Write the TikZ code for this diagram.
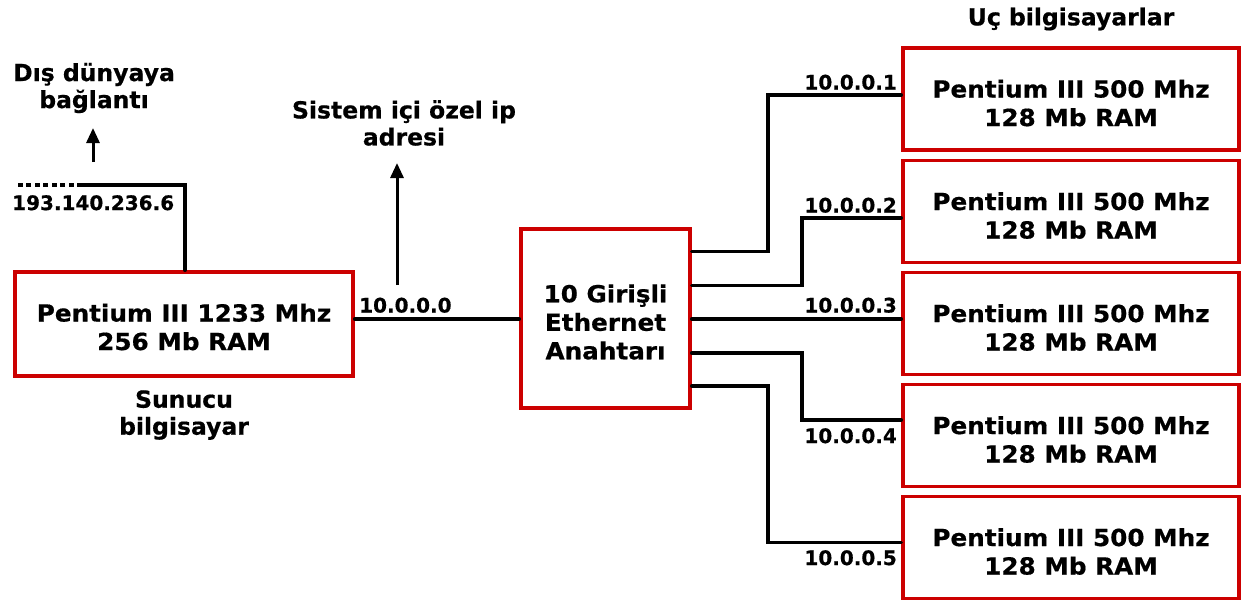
\documentclass[tikz,border=0pt]{standalone}
\usepackage{fontspec}
\setmainfont{DejaVu Sans}[BoldFeatures={FakeBold=0.6}]
\newfontfamily\wideboldfont{DejaVu Sans}[FakeStretch=1.05, BoldFeatures={FakeBold=0.6}]
\usetikzlibrary{arrows.meta}
\definecolor{boxred}{RGB}{204,0,0}
\tikzset{
  box/.style={draw=boxred, line width=3.5pt, fill=white, inner sep=0pt},
  boxtxt/.style={align=center, inner sep=0pt, font=\wideboldfont\fontsize{23.5}{28.5}\selectfont\bfseries},
  txt/.style={align=center, inner sep=0pt, font=\fontsize{23.5}{27}\selectfont\bfseries},
  lbl/.style={inner sep=0pt, font=\fontsize{20}{24}\selectfont\bfseries},
  wire/.style={line width=3.5pt, line cap=round, line join=miter},
  arr/.style={line width=3pt, -{Triangle[length=15pt,width=13pt]}},
  dotline/.style={line width=4.5pt, dash pattern=on 5pt off 3.5pt},
}
\begin{document}
\begin{tikzpicture}[x=1pt,y=-1pt]
\useasboundingbox (0,0) rectangle (1241,600);
% boxes
\node[box, minimum width=338pt, minimum height=104pt] (srv) at (184,324) {};
\node[boxtxt] (srvtxt) at ([yshift=-3pt]srv.center) {Pentium III 1233 Mhz\\256 Mb RAM};
\node[box, minimum width=169pt, minimum height=179pt] (sw) at (605.5,318.5) {};
\node[boxtxt] (swtxt) at ([yshift=-3.5pt]sw.center) {10 Girişli\\Ethernet\\Anahtarı};
\foreach \i/\y in {1/99,2/211.5,3/323.5,4/435.5,5/547.5}{
  \node[box, minimum width=336pt, minimum height=102pt] (pc\i) at (1071,\y) {};
  \node[boxtxt] (pctxt\i) at ([yshift=-4pt]pc\i.center) {Pentium III 500 Mhz\\128 Mb RAM};
}
% captions
\node[txt] (uc) at (1071,19) {Uç bilgisayarlar};
\node[txt] (sunucu) at (184,415) {Sunucu\\bilgisayar};
\node[txt] (dis) at (94,88) {Dış dünyaya\\bağlantı};
\node[txt] (sis) at (404,123) {Sistem içi özel ip\\adresi};
% external link
\coordinate (ext) at (82,185);
\coordinate (extend) at (15,185);
\draw[wire] (srv.north -| 185,0) |- (ext);
\draw[dotline] (ext) -- (extend);
\node[lbl, anchor=north west] (ipx) at (12,195) {193.140.236.6};
\coordinate (a1s) at (93,162);
\coordinate (a1e) at (93,128);
\draw[arr] (a1s) -- (a1e);
% server to switch
\coordinate (l0) at (0,319);
\draw[wire] (srv.east |- l0) -- (sw.west |- l0);
\node[lbl, anchor=south west] (ip0) at (359,313) {10.0.0.0};
\coordinate (a2s) at (397,285);
\coordinate (a2e) at (397,163);
\draw[arr] (a2s) -- (a2e);
% switch to clients
\coordinate (s1) at (0,251.7); \coordinate (t1) at (0,95);
\coordinate (s2) at (0,285.7); \coordinate (t2) at (0,218);
\coordinate (s3) at (0,319);
\coordinate (s4) at (0,353); \coordinate (t4) at (0,420);
\coordinate (s5) at (0,386); \coordinate (t5) at (0,542.7);
\draw[wire] (sw.east |- s1) -- (768,251.7) |- (pc1.west |- t1);
\draw[wire] (sw.east |- s2) -- (802,285.7) |- (pc2.west |- t2);
\draw[wire] (sw.east |- s3) -- (pc3.west |- s3);
\draw[wire] (sw.east |- s4) -- (802,353) |- (pc4.west |- t4);
\draw[wire] (sw.east |- s5) -- (768,386) |- (pc5.west |- t5);
\node[lbl, anchor=south east] (ip1) at (897,90) {10.0.0.1};
\node[lbl, anchor=south east] (ip2) at (897,213) {10.0.0.2};
\node[lbl, anchor=south east] (ip3) at (897,313) {10.0.0.3};
\node[lbl, anchor=north east] (ip4) at (897,428) {10.0.0.4};
\node[lbl, anchor=north east] (ip5) at (897,550) {10.0.0.5};
\end{tikzpicture}
\end{document}
